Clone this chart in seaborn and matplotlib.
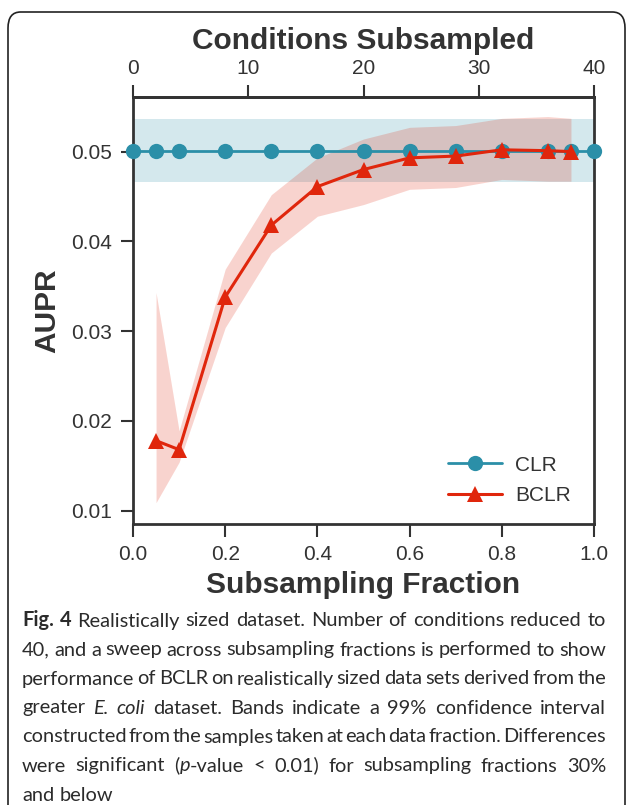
import numpy as np
import pandas as pd
import seaborn as sns
import matplotlib.pyplot as plt
from matplotlib.patches import FancyBboxPatch

# values
clr_fraction = [0.0, 0.05, 0.1, 0.2, 0.3, 0.4, 0.5, 0.6, 0.7, 0.8, 0.9, 0.95, 1.0]
clr_aupr = [0.0501] * len(clr_fraction)
clr_band_low = [0.0466] * len(clr_fraction)
clr_band_high = [0.0536] * len(clr_fraction)

bclr_fraction = [0.05, 0.1, 0.2, 0.3, 0.4, 0.5, 0.6, 0.7, 0.8, 0.9, 0.95]
bclr_aupr = [0.0178, 0.0168, 0.0338, 0.0418, 0.0461, 0.0480, 0.0493, 0.0495, 0.0502, 0.0501, 0.0500]
bclr_band_low = [0.0109, 0.0154, 0.0304, 0.0387, 0.0428, 0.0441, 0.0458, 0.0460, 0.0469, 0.0467, 0.0467]
bclr_band_high = [0.0343, 0.0189, 0.0369, 0.0452, 0.0493, 0.0514, 0.0527, 0.0529, 0.0537, 0.0539, 0.0537]

n_conditions = 40
x_ticks = [0.0, 0.2, 0.4, 0.6, 0.8, 1.0]
y_ticks = [0.01, 0.02, 0.03, 0.04, 0.05]
top_ticks = [0, 10, 20, 30, 40]

clr_color = "#2b8fa8"
bclr_color = "#e0260c"
ink = "#333333"

sns.set_style("ticks")
plt.rcParams["font.family"] = ["Liberation Sans", "DejaVu Sans"]
plt.rcParams["text.color"] = ink
plt.rcParams["axes.labelcolor"] = ink

fig = plt.figure(figsize=(6.3, 8.05), dpi=100)
ax = fig.add_axes([133 / 630, 1 - 524 / 805, 461 / 630, 427 / 805])

clr = pd.DataFrame({"fraction": clr_fraction, "aupr": clr_aupr})
bclr = pd.DataFrame({"fraction": bclr_fraction, "aupr": bclr_aupr})

ax.fill_between(clr_fraction, clr_band_low, clr_band_high, color=clr_color, alpha=0.2, lw=0)
ax.fill_between(bclr_fraction, bclr_band_low, bclr_band_high, color=bclr_color, alpha=0.2, lw=0)

sns.lineplot(data=clr, x="fraction", y="aupr", ax=ax, color=clr_color, marker="o",
             markersize=11, markeredgewidth=0, linewidth=2, label="CLR", clip_on=False, zorder=3)
sns.lineplot(data=bclr, x="fraction", y="aupr", ax=ax, color=bclr_color, marker="^",
             markersize=12, markeredgewidth=0, linewidth=2.2, label="BCLR", zorder=4)

ax.set_xlim(0, 1)
ax.set_ylim(0.00852, 0.05608)
ax.set_xticks(x_ticks)
ax.set_xticklabels([f"{t:.1f}" for t in x_ticks])
ax.set_yticks(y_ticks)
ax.set_yticklabels([f"{t:.2f}" for t in y_ticks])
ax.tick_params(axis="both", direction="out", length=9, width=1.5, color=ink,
               labelsize=15, labelcolor=ink, pad=6)
for s in ax.spines.values():
    s.set_linewidth(2)
    s.set_color(ink)

ax.set_xlabel("Subsampling Fraction", fontsize=21.5, fontweight="bold", labelpad=5)
ax.set_ylabel("AUPR", fontsize=21.5, fontweight="bold", labelpad=7)

top = ax.secondary_xaxis("top", functions=(lambda f: f * n_conditions, lambda c: c / n_conditions))
top.set_xticks(top_ticks)
top.tick_params(direction="out", length=9, width=1.5, color=ink, labelsize=15, labelcolor=ink, pad=5)
top.spines["top"].set_linewidth(2)
top.set_xlabel("Conditions Subsampled", fontsize=21.5, fontweight="bold", labelpad=7)

leg = ax.legend(loc="lower right", bbox_to_anchor=(0.99, 0.0), frameon=False, fontsize=15,
                handlelength=2.6, handletextpad=0.6, labelspacing=0.55)

# rounded panel frame
fig.patches.append(FancyBboxPatch((8 / 630, -0.02), 617 / 630, 1 - 12 / 805 + 0.02,
                                  boxstyle="round,pad=0,rounding_size=0.02",
                                  transform=fig.transFigure, fill=False,
                                  edgecolor="#222222", linewidth=1.2))

# caption, justified word by word
caption = [
    [[("Fig.", "bold")], [("4", "bold")], [("Realistically", "")], [("sized", "")], [("dataset.", "")],
     [("Number", "")], [("of", "")], [("conditions", "")], [("reduced", "")], [("to", "")]],
    "40, and a sweep across subsampling fractions is performed to show",
    "performance of BCLR on realistically sized data sets derived from the",
    [[("greater", "")], [("E.", "italic")], [("coli", "italic")], [("dataset.", "")], [("Bands", "")],
     [("indicate", "")], [("a", "")], [("99%", "")], [("confidence", "")], [("interval", "")]],
    "constructed from the samples taken at each data fraction. Differences",
    [[("were", "")], [("significant", "")], [("(", ""), ("p", "italic"), ("-value", "")], [("<", "")],
     [("0.01)", "")], [("for", "")], [("subsampling", "")], [("fractions", "")], [("30%", "")]],
    "and below",
]

cap_font = ["Lato", "DejaVu Sans"]
cap_size = 14.4
cap_left, cap_right = 22 / 630, 606 / 630
cap_y0, cap_dy = 1 - 626.5 / 805, 29.0 / 805

fig.canvas.draw()
renderer = fig.canvas.get_renderer()


def word_parts(word, y):
    parts = []
    for txt, style in word:
        t = fig.text(0, y, txt, fontsize=cap_size, family=cap_font, color="#2b2b2b", va="baseline",
                     fontweight="bold" if style == "bold" else "normal",
                     fontstyle="italic" if style == "italic" else "normal")
        w = t.get_window_extent(renderer).width / fig.bbox.width
        parts.append((t, w))
    return parts


probe2 = fig.text(0, 0, "a a", fontsize=cap_size, family=cap_font)
probe1 = fig.text(0, 0, "aa", fontsize=cap_size, family=cap_font)
space_w = (probe2.get_window_extent(renderer).width
           - probe1.get_window_extent(renderer).width) / fig.bbox.width
probe1.remove()
probe2.remove()

for i, line in enumerate(caption):
    y = cap_y0 - i * cap_dy
    if isinstance(line, str):
        line = [[(w, "")] for w in line.split()]
    words = [word_parts(w, y) for w in line]
    widths = [sum(w for _, w in parts) for parts in words]
    last = i == len(caption) - 1
    gap = space_w if last else (cap_right - cap_left - sum(widths)) / (len(words) - 1)
    x = cap_left
    for parts, ww in zip(words, widths):
        px = x
        for t, w in parts:
            t.set_x(px)
            px += w
        x += ww + gap

fig.savefig("out.png", dpi=100)
